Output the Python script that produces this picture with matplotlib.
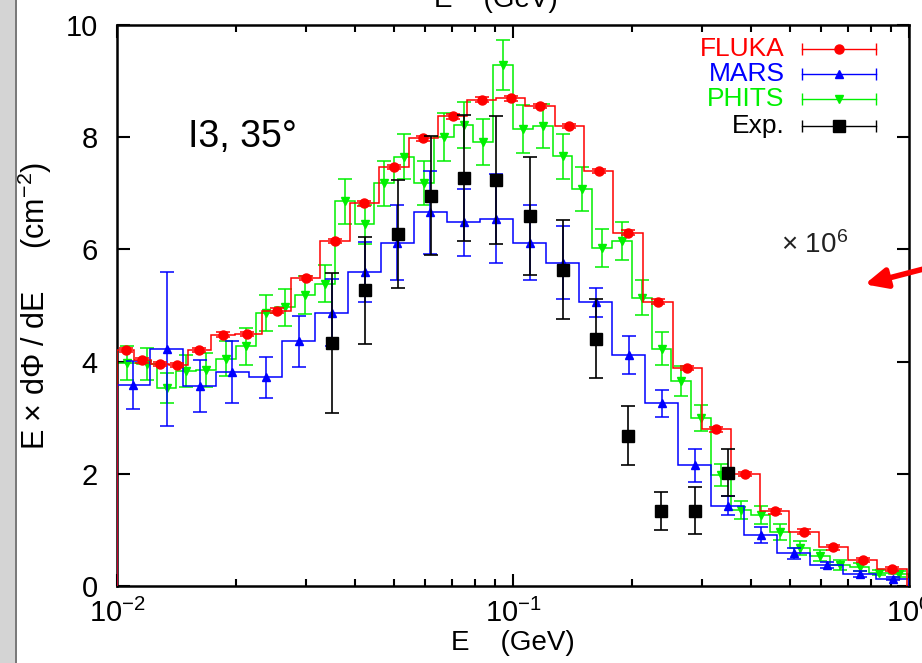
import numpy as np
import matplotlib
matplotlib.use("Agg")
import matplotlib.pyplot as plt
from matplotlib.patches import Rectangle
from matplotlib.ticker import FixedLocator, FixedFormatter, LogLocator, NullFormatter

plt.rcParams['font.family'] = ['Liberation Sans', 'DejaVu Sans']
plt.rcParams['mathtext.fontset'] = 'custom'
plt.rcParams['mathtext.rm'] = 'Liberation Sans'
plt.rcParams['mathtext.it'] = 'Liberation Sans:italic'

# FLUKA: bin centres (GeV), values, errors
fluka_e = [0.01052, 0.01159, 0.01284, 0.01420, 0.01614, 0.01855, 0.02130, 0.02531,
           0.02996, 0.03552, 0.04211, 0.05007, 0.05935, 0.07041, 0.08350, 0.09884,
           0.1170, 0.1388, 0.1646, 0.1952, 0.2320, 0.2755, 0.3262, 0.3860, 0.4580,
           0.5423, 0.6439, 0.7640, 0.9060]
fluka_y = [4.21, 4.02, 3.96, 3.94, 4.21, 4.48, 4.49, 4.91, 5.49, 6.15, 6.82, 7.47,
           7.98, 8.37, 8.67, 8.69, 8.56, 8.20, 7.40, 6.30, 5.07, 3.89, 2.79, 2.00,
           1.33, 0.97, 0.69, 0.46, 0.30]
fluka_err = [0.04] * len(fluka_y)

# MARS: 12 bins per decade from 0.01 to 1 GeV
mars_edges = np.logspace(-2, 0, 25)
mars_y = [3.58, 4.23, 3.57, 3.82, 3.72, 4.36, 4.87, 5.60, 6.12, 6.66, 6.48, 6.55,
          6.12, 5.76, 5.06, 4.12, 3.26, 2.15, 1.43, 0.91, 0.58, 0.375, 0.21, 0.13]
mars_err = [0.43, 1.37, 0.46, 0.55, 0.37, 0.46, 0.60, 0.54, 0.67, 0.74, 0.60, 0.79,
            0.67, 0.65, 0.26, 0.34, 0.24, 0.29, 0.17, 0.135, 0.095, 0.06, 0.05, 0.03]

# PHITS: 20 bins per decade from 0.01 to 1 GeV
phits_edges = np.logspace(-2, 0, 41)
phits_y = [3.98, 3.96, 3.53, 3.83, 3.85, 4.05, 4.27, 4.86, 4.97, 5.18, 5.39, 6.86,
           6.45, 7.18, 7.65, 7.18, 8.01, 8.21, 7.92, 9.29, 8.15, 8.20, 7.66, 7.07,
           6.02, 6.15, 5.14, 4.23, 3.66, 2.99, 1.98, 1.36, 1.26, 0.96, 0.68, 0.54,
           0.375, 0.345, 0.24, 0.21]
phits_err = [0.30, 0.29, 0.26, 0.28, 0.30, 0.31, 0.33, 0.32, 0.33, 0.34, 0.33, 0.40,
             0.35, 0.40, 0.40, 0.39, 0.43, 0.41, 0.41, 0.44, 0.43, 0.40, 0.40, 0.39,
             0.34, 0.34, 0.31, 0.29, 0.27, 0.23, 0.19, 0.16, 0.16, 0.14, 0.12, 0.10,
             0.085, 0.07, 0.05, 0.05]

# Experiment
exp_e = [0.03481, 0.04217, 0.05109, 0.06190, 0.07499, 0.09085, 0.1101, 0.1334,
         0.1616, 0.1957, 0.2371, 0.2873, 0.3481]
exp_y = [4.33, 5.27, 6.27, 6.96, 7.27, 7.23, 6.60, 5.64, 4.41, 2.68, 1.34, 1.34, 2.02]
exp_err = [1.25, 0.95, 0.96, 1.06, 1.12, 1.14, 1.05, 0.88, 0.70, 0.52, 0.34, 0.42, 0.42]

RED, BLUE, GREEN = '#ff0000', '#0000ff', '#00f000'


def edges_from_centres(c):
    c = np.asarray(c)
    mid = np.sqrt(c[1:] * c[:-1])
    first = c[0] ** 2 / mid[0]
    last = c[-1] ** 2 / mid[-1]
    return np.concatenate([[first], mid, [last]])


def centres_from_edges(e):
    return np.sqrt(e[1:] * e[:-1])


fig = plt.figure(figsize=(9.22, 6.63), dpi=100)
ax = fig.add_axes([117 / 922, 1 - 586 / 663, 792 / 922, 561 / 663])

# PHITS
ax.stairs(phits_y, phits_edges, color=GREEN, lw=1.1, zorder=2)
ax.errorbar(centres_from_edges(phits_edges), phits_y, yerr=phits_err, fmt='v',
            color=GREEN, ms=6, lw=1.1, capsize=5, capthick=1.1, zorder=2)

# MARS
ax.stairs(mars_y, mars_edges, color=BLUE, lw=1.1, zorder=3)
ax.errorbar(centres_from_edges(mars_edges), mars_y, yerr=mars_err, fmt='^',
            color=BLUE, ms=6, lw=1.1, capsize=5, capthick=1.1, zorder=3)

# FLUKA
ax.stairs(fluka_y, edges_from_centres(fluka_e), color=RED, lw=1.1, zorder=4)
ax.errorbar(fluka_e, fluka_y, yerr=fluka_err, fmt='o', color=RED, ms=6.5,
            lw=1.1, capsize=5, capthick=1.1, zorder=4)

# Experiment
ax.errorbar(exp_e, exp_y, yerr=exp_err, fmt='s', color='black', ms=8.5,
            lw=1.2, capsize=5, capthick=1.2, zorder=5)

ax.set_xscale('log')
ax.set_xlim(0.01, 1.0)
ax.set_ylim(0, 10)

ax.xaxis.set_major_locator(FixedLocator([0.01, 0.1, 1.0]))
ax.xaxis.set_major_formatter(FixedFormatter([r'$10^{-2}$', r'$10^{-1}$', r'$10^{0}$']))
ax.xaxis.set_minor_locator(LogLocator(base=10, subs=np.arange(2, 10)))
ax.xaxis.set_minor_formatter(NullFormatter())
ax.set_yticks([0, 2, 4, 6, 8, 10])
ax.set_yticklabels(['0', '2', '4', '6', '8', '10'])

ax.tick_params(which='both', direction='in', top=True, right=True, width=1.5,
               labelsize=21)
ax.tick_params(which='major', length=9)
ax.tick_params(which='minor', length=5)
ax.tick_params(axis='x', pad=9)
ax.tick_params(axis='y', pad=14)
for s in ax.spines.values():
    s.set_linewidth(1.8)

ax.set_xlabel('E    (GeV)', fontsize=20, labelpad=2)
ax.set_ylabel('E \u00d7 d\u03a6 / dE     (cm$^{-2}$)', fontsize=22, labelpad=8)

ax.text(0.09, 0.80, 'I3, 35\u00b0', transform=ax.transAxes, fontsize=27,
        ha='left', va='center')

# legend, gnuplot style
leg_rows = [('FLUKA', RED, 'o', 6.5), ('MARS', BLUE, '^', 6),
            ('PHITS', GREEN, 'v', 6), ('Exp.', 'black', 's', 8.5)]
leg_y = [0.957, 0.9125, 0.868, 0.820]
for (lab, col, mk, ms), yy in zip(leg_rows, leg_y):
    ax.text(0.843, yy, lab, color=col, transform=ax.transAxes, fontsize=19,
            ha='right', va='center')
    ax.plot([0.865, 0.958], [yy, yy], color=col, lw=1, transform=ax.transAxes,
            clip_on=False)
    ax.plot([0.865, 0.958], [yy, yy], ls='none', marker='|', ms=9, mew=1,
            color=col, transform=ax.transAxes, clip_on=False)
    ax.plot([0.9116], [yy], ls='none', marker=mk, ms=ms, color=col,
            transform=ax.transAxes, clip_on=False)

# surrounding slide bits
fig.patches.append(Rectangle((0, 0), 15 / 922, 1, transform=fig.transFigure,
                             facecolor='#d4d4d4', edgecolor='none'))
fig.patches.append(Rectangle((15 / 922, 0), 2 / 922, 1, transform=fig.transFigure,
                             facecolor='#7a7a7a', edgecolor='none'))
fig.text(0.538, 1.0, 'E    (GeV)', fontsize=20, ha='center', va='center')
fig.text(815 / 922, 1 - 245 / 663, '\u00d7 10$^6$', fontsize=20, ha='center',
         va='center', color='#222222')
ax.annotate('', xy=(862 / 922, 1 - 285 / 663), xycoords='figure fraction',
            xytext=(935 / 922, 1 - 266 / 663), textcoords='figure fraction',
            arrowprops=dict(arrowstyle='-|>,head_length=1.3,head_width=0.6',
                            color=RED, lw=4), annotation_clip=False)

fig.savefig('out.png', dpi=100)
